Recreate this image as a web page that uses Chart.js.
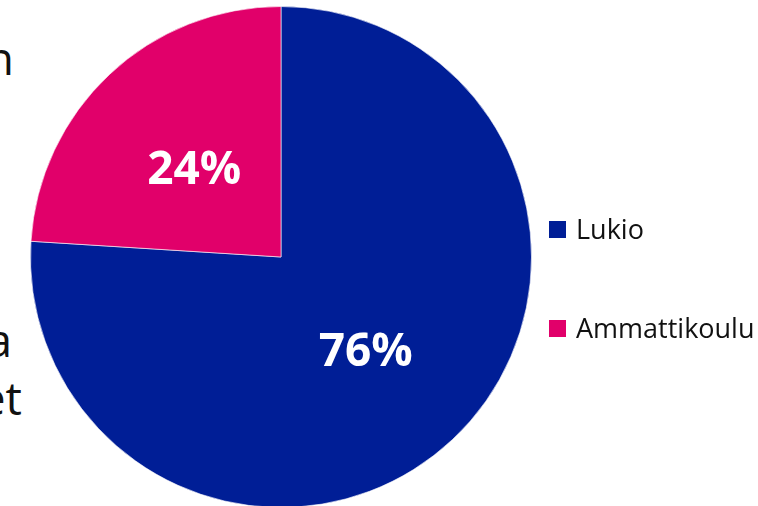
<!DOCTYPE html>
<html>
<head>
<meta charset="utf-8">
<script src="https://cdn.jsdelivr.net/npm/chart.js@4"></script>
<style>
  html, body { margin: 0; padding: 0; background: #fff; overflow: hidden; }
  body { width: 758px; height: 506px; position: relative; font-family: "Open Sans", sans-serif; }
  #wrap { position: absolute; left: 0; top: 0; width: 562px; height: 514px; }
  .frag { position: absolute; font-size: 46px; line-height: 1; color: #111; text-align: right; white-space: nowrap; }
  .leg { position: absolute; left: 549px; font-size: 27px; line-height: 1; color: #111; white-space: nowrap; }
  .leg span.box { position: absolute; left: 0; width: 17px; height: 17px; }
  .leg span.txt { position: absolute; left: 27px; top: 0; }
</style>
</head>
<body>
<div class="frag" style="right:744px; top:34px;">n</div>
<div class="frag" style="right:746px; top:316px;">a</div>
<div class="frag" style="right:736px; top:374px;">et</div>
<div id="wrap"><canvas id="pie"></canvas></div>
<div id="legend"></div>
<script>
const labels = ['Lukio', 'Ammattikoulu'];
const shares = [76, 24];
const colors = ['#001E96', '#E1006A'];

document.addEventListener('DOMContentLoaded', () => {
  // percent labels on the slices
  const sliceLabels = {
    id: 'sliceLabels',
    afterDatasetsDraw(chart) {
      const ctx = chart.ctx;
      const meta = chart.getDatasetMeta(0);
      ctx.save();
      ctx.fillStyle = '#fff';
      ctx.font = 'bold 46px "Open Sans"';
      ctx.textAlign = 'center';
      ctx.textBaseline = 'alphabetic';
      meta.data.forEach((arc, i) => {
        const p = arc.tooltipPosition();
        ctx.fillText(shares[i] + '%', p.x - 1, p.y + 18);
      });
      ctx.restore();
    }
  };

  const ctx = document.getElementById('pie').getContext('2d');
  const pieChart = new Chart(ctx, {
    type: 'pie',
    data: {
      labels,
      datasets: [{ data: shares, backgroundColor: colors, borderColor: 'rgba(255,255,255,0.6)', borderWidth: 1 }]
    },
    options: {
      responsive: true,
      maintainAspectRatio: false,
      animation: false,
      layout: { padding: { top: 6, bottom: 6, left: 0, right: 0 } },
      plugins: { legend: { display: false }, tooltip: { enabled: false } }
    },
    plugins: [sliceLabels]
  });
  window.pieChart = pieChart;

  const legend = document.getElementById('legend');
  labels.forEach((name, i) => {
    const item = document.createElement('div');
    item.className = 'leg';
    item.style.top = (215 + i * 99) + 'px';
    item.innerHTML = '<span class="box" style="top:6px;background:' + colors[i] + '"></span><span class="txt">' + name + '</span>';
    legend.appendChild(item);
  });
});
</script>
</body>
</html>
